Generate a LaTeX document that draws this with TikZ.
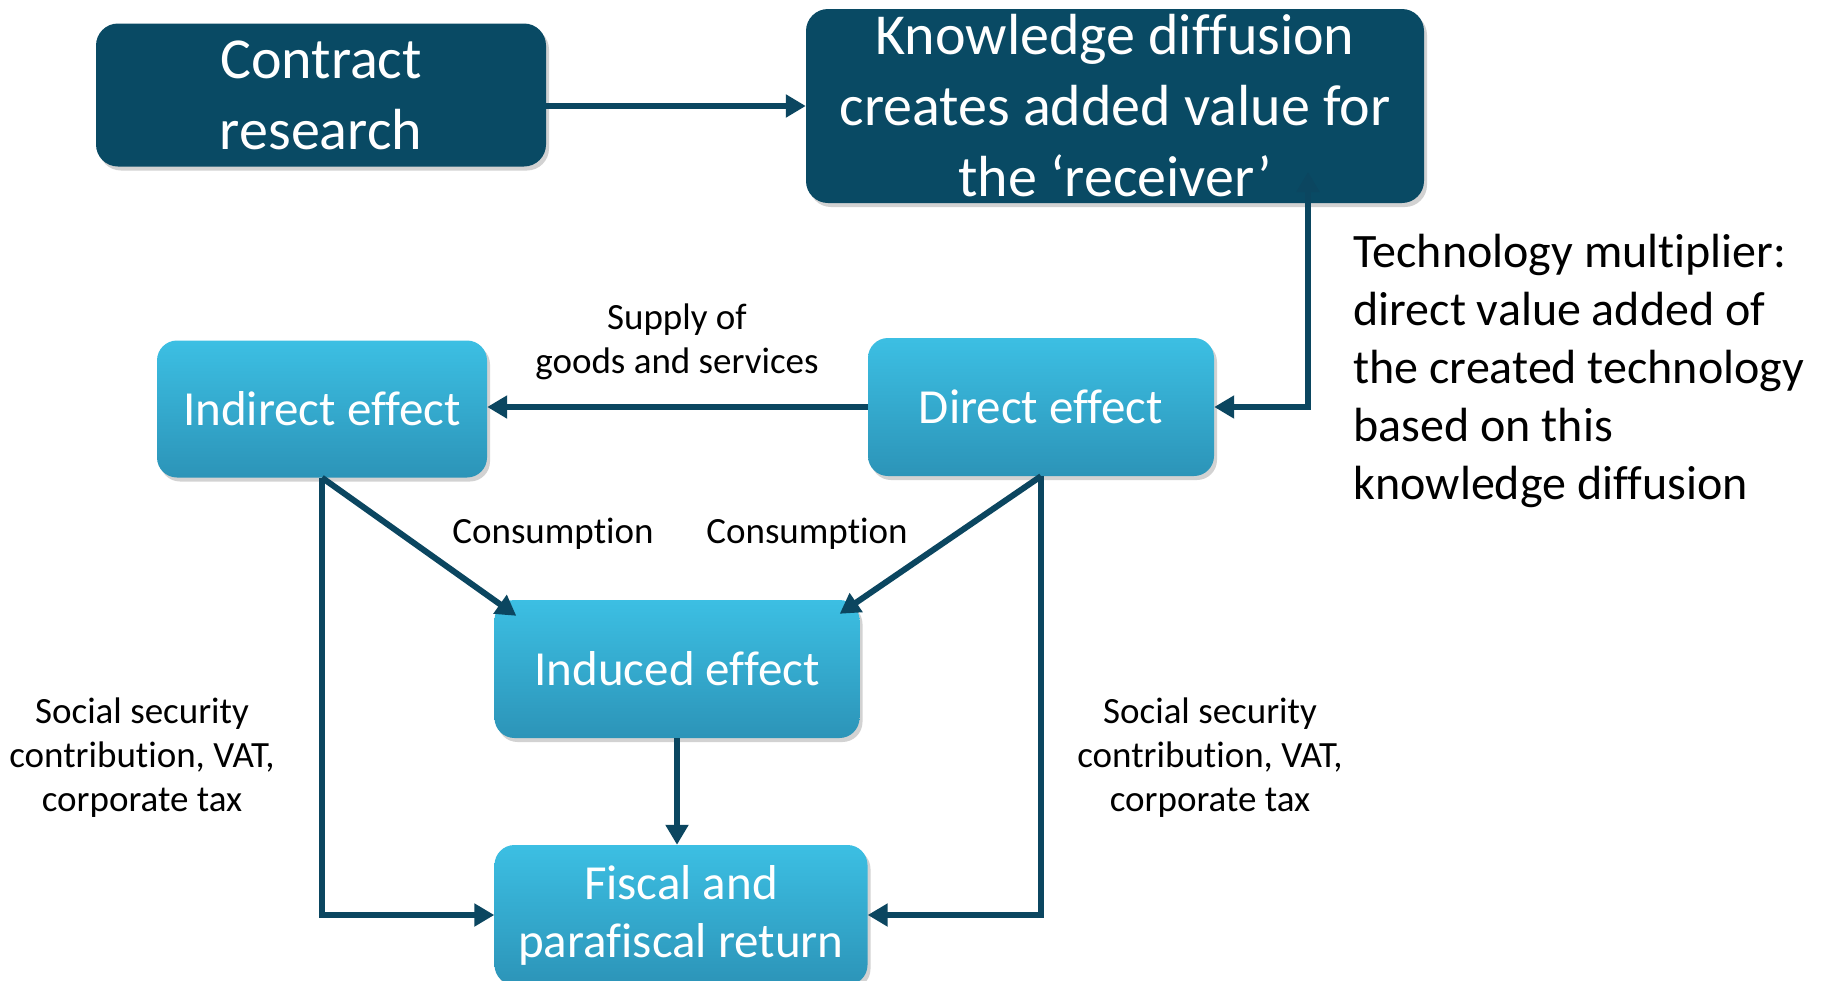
\documentclass[tikz,border=0pt]{standalone}
\usepackage{fontspec}
\setmainfont[Ligatures=NoCommon]{Carlito}
\usetikzlibrary{arrows.meta,shadows,calc}
\definecolor{darkbox}{HTML}{094A64}
\definecolor{arrowc}{HTML}{0B4660}
\definecolor{lighttop}{HTML}{3CBFE3}
\definecolor{lightbot}{HTML}{2C94B8}
\tikzset{
  darkstyle/.style={rounded corners=22pt, fill=darkbox, draw=none, text=white, align=center,
    drop shadow={shadow xshift=3pt, shadow yshift=-4pt, opacity=0.35},
    font=\fontsize{58}{71}\selectfont},
  lightstyle/.style={rounded corners=20pt, top color=lighttop, bottom color=lightbot, draw=none, text=white, align=center,
    drop shadow={shadow xshift=3pt, shadow yshift=-4pt, opacity=0.35},
    font=\fontsize{49}{58}\selectfont},
  conn/.style={draw=arrowc, line width=6pt, -{Triangle[length=20pt,width=22pt]}},
  lbl/.style={text=black, align=center, font=\fontsize{37}{44}\selectfont},
}
\begin{document}
\begin{tikzpicture}[x=1pt,y=-1pt]
\useasboundingbox (0,0) rectangle (1823,980);
\clip (0,0) rectangle (1823,980);
\fill[white] (0,0) rectangle (1823,980);
% boxes
\node[darkstyle, minimum width=450pt, minimum height=143pt] (contract) at (321,95) {Contract\\research};
\node[darkstyle, minimum width=618pt, minimum height=194pt] (kd) at (1115,106) {Knowledge diffusion\\creates added value for\\the ‘receiver’};
\node[lightstyle, minimum width=330pt, minimum height=137pt] (indirect) at (322,409) {Indirect effect};
\node[lightstyle, minimum width=346pt, minimum height=138pt] (direct) at (1041,407) {Direct effect};
\node[lightstyle, minimum width=365pt, minimum height=138pt] (induced) at (677,669) {Induced effect};
\node[lightstyle, minimum width=373pt, minimum height=140pt] (fiscal) at (681,915) {Fiscal and\\parafiscal return};
% helper coordinates
\coordinate (fbtop) at (1308,172);
\coordinate (indtipL) at ($(induced.north west)+(22,16)$);
\coordinate (indtipR) at ($(induced.north east)+(-20,14)$);
% connectors
\draw[conn] (contract.east |- kd.west) -- (kd.west);
\draw[conn] (direct.west) -- (direct.west -| indirect.east);
\draw[draw=arrowc, line width=6pt, {Triangle[length=20pt,width=22pt]}-{Triangle[length=20pt,width=22pt]}] (fbtop) |- (direct.east);
\draw[conn] (indirect.south) -- (indtipL);
\draw[conn] (direct.south) -- (indtipR);
\draw[conn] (induced.south) -- (induced.south |- fiscal.north);
\draw[conn] (indirect.south) |- (fiscal.west);
\draw[conn] (direct.south) |- (fiscal.east);
% labels
\node[lbl] (supply) at (677,342) {Supply of\\goods and services};
\node[lbl] (consL) at (553,534) {Consumption};
\node[lbl] (consR) at (807,534) {Consumption};
\node[lbl] (socL) at (142,758) {Social security\\contribution, VAT,\\corporate tax};
\node[lbl] (socR) at (1210,758) {Social security\\contribution, VAT,\\corporate tax};
\node[text=black, align=left, anchor=west, font=\fontsize{48}{58}\selectfont] (tech) at (1350,371) {Technology multiplier:\\direct value added of\\the created technology\\based on this\\knowledge diffusion};
\end{tikzpicture}
\end{document}
